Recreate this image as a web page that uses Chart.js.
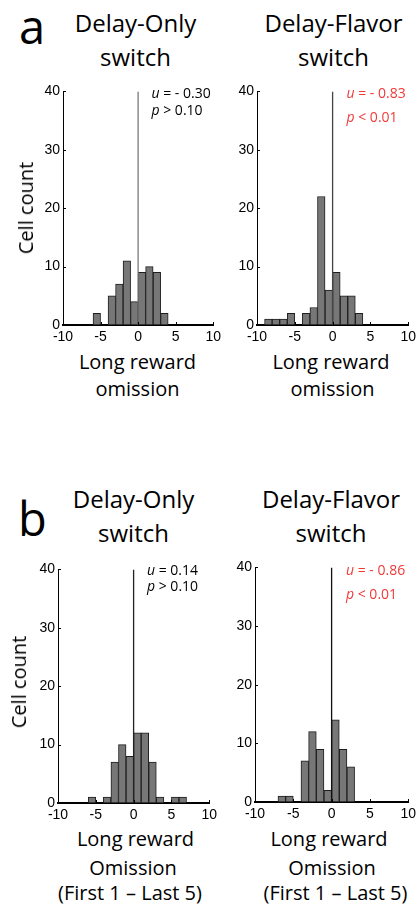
<!DOCTYPE html>
<html><head><meta charset="utf-8">
<script src="https://cdn.jsdelivr.net/npm/chart.js@4.4.1/dist/chart.umd.min.js"></script>
<style>
html,body{margin:0;padding:0;background:#fff;}
body{width:420px;height:908px;position:relative;overflow:hidden;}
canvas{position:absolute;}
.t{position:absolute;white-space:nowrap;line-height:1;font-family:"Open Sans",sans-serif;color:#000;}
.s{position:absolute;white-space:nowrap;line-height:1;font-family:"Open Sans",sans-serif;}
</style></head><body>
<script>
// ---- data ----
const binCenters = [-9.5,-8.5,-7.5,-6.5,-5.5,-4.5,-3.5,-2.5,-1.5,-0.5,0.5,1.5,2.5,3.5,4.5,5.5,6.5,7.5,8.5,9.5];
const xTicks = [-10,-5,0,5,10];
const yTicks = [0,10,20,30,40];
const countsDelayOnlyA   = [0,0,0,0,2,0,5,7,11,4,9,10,9,2,0,0,0,0,0,0];
const countsDelayFlavorA = [0,1,1,1,2,0,2,3,22,6,9,5,5,2,0,0,0,0,0,0];
const countsDelayOnlyB   = [0,0,0,0,1,0,1,7,10,8,12,12,7,1,0,1,1,0,0,0];
const countsDelayFlavorB = [0,0,0,1,1,0,7,12,9,2,14,9,6,0,0,0,0,0,0,0];
const statU = ["- 0.30","- 0.83","0.14","- 0.86"];
const statP = ["> 0.10","< 0.01","> 0.10","< 0.01"];
const panelLetters = ["a","b"];
const titleOnly = ["Delay-Only","switch"];
const titleFlavor = ["Delay-Flavor","switch"];
const yAxisLabel = "Cell count";
const xLabelA = ["Long reward","omission"];
const xLabelB = ["Long reward","Omission","(First 1 \u2013 Last 5)"];

// ---- helpers ----
function txt(str, x, baseline, fs, opts){
  opts = opts||{};
  const d=document.createElement('div');
  d.className = opts.cls||'t';
  d.textContent = str;
  d.style.fontSize = fs+'px';
  d.style.top = (baseline - 0.888*fs)+'px';
  if(opts.align==='left'){ d.style.left = x+'px'; }
  else { d.style.left = x+'px'; d.style.transform='translateX(-50%)'; }
  if(opts.color) d.style.color=opts.color;
  document.body.appendChild(d);
  return d;
}
function stat(sym, val, x, baseline, fs, color){
  const d=document.createElement('div');
  d.className='s';
  d.style.fontSize=fs+'px';
  d.style.top=(baseline-0.888*fs)+'px';
  d.style.left=x+'px';
  d.style.color=color;
  const i=document.createElement('i'); i.textContent=sym;
  d.appendChild(i);
  d.appendChild(document.createTextNode(' '+(sym==='u'?'= ':'')+val));
  document.body.appendChild(d);
}
function vlabel(str, cx, cy, fs){
  const d=document.createElement('div');
  d.className='t';
  d.textContent=str;
  d.style.fontSize=fs+'px';
  d.style.left=cx+'px'; d.style.top=cy+'px';
  d.style.transform='translate(-50%,-50%) rotate(-90deg)';
  document.body.appendChild(d);
}

const innerTicks = {
  id:'innerTicks',
  afterDraw(chart){
    const {ctx, chartArea:a, scales:{x,y}} = chart;
    ctx.save(); ctx.strokeStyle='#000'; ctx.lineWidth=1;
    ctx.beginPath();
    xTicks.forEach(v=>{const p=Math.round(x.getPixelForValue(v))+0.5; ctx.moveTo(p,a.bottom); ctx.lineTo(p,a.bottom-3);});
    yTicks.forEach(v=>{const p=Math.round(y.getPixelForValue(v))+0.5; ctx.moveTo(a.left,p); ctx.lineTo(a.left+3,p);});
    ctx.stroke(); ctx.restore();
  }
};

const YW=30, XH=22, PT=8, PR=10;
function makePanel(p){
  const c=document.createElement('canvas');
  const w=p.R-p.L+YW+PR, h=p.B-p.T+PT+XH;
  c.width=w; c.height=h;
  c.style.left=(p.L-YW)+'px'; c.style.top=(p.T-PT)+'px';
  c.style.width=w+'px'; c.style.height=h+'px';
  document.body.appendChild(c);
  new Chart(c,{
    data:{datasets:[
      {type:'line', data:[{x:0,y:0},{x:0,y:40}], borderColor:p.zero, borderWidth:1.3, pointRadius:0, order:0},
      {type:'bar', data:binCenters.map((b,i)=>({x:b,y:p.counts[i]})), backgroundColor:'#777777',
       borderColor:'#1e1e1e', borderWidth:1, borderSkipped:false, barPercentage:1, categoryPercentage:1, order:1}
    ]},
    options:{
      responsive:false, animation:false, devicePixelRatio:1,
      layout:{padding:{top:PT,right:PR,left:0,bottom:0}},
      plugins:{legend:{display:false},tooltip:{enabled:false}},
      scales:{
        x:{type:'linear',min:-10,max:10,offset:false,
           afterBuildTicks:(s)=>{s.ticks=xTicks.map(v=>({value:v}));},
           afterFit:(s)=>{s.height=XH;},
           grid:{display:false,drawTicks:false},
           border:{display:true,color:'#000',width:2},
           ticks:{padding:4,color:'#000',font:{family:'"Liberation Sans", Arial',size:14},maxRotation:0,autoSkip:false}},
        y:{type:'linear',min:0,max:40,
           afterBuildTicks:(s)=>{s.ticks=yTicks.map(v=>({value:v}));},
           afterFit:(s)=>{s.width=YW;},
           grid:{display:false,drawTicks:false},
           border:{display:true,color:'#000',width:1},
           ticks:{padding:3,color:'#000',font:{family:'"Liberation Sans", Arial',size:14}}}
      }
    },
    plugins:[innerTicks]
  });
}

const RED='#f03a3a';
// row a
makePanel({L:63,R:215,T:88,B:325,counts:countsDelayOnlyA,zero:'#7a7a7a'});
makePanel({L:257,R:410,T:88,B:325,counts:countsDelayFlavorA,zero:'#444'});
// row b
makePanel({L:58,R:211,T:566,B:803,counts:countsDelayOnlyB,zero:'#222'});
makePanel({L:255,R:410,T:564,B:802,counts:countsDelayFlavorB,zero:'#111'});

// letters
txt(panelLetters[0], 19, 45, 47, {align:'left'});
txt(panelLetters[1], 18, 536.5, 47, {align:'left'});
// titles
txt(titleOnly[0], 135.5, 32.5, 24); txt(titleOnly[1], 135.5, 66, 24);
txt(titleFlavor[0], 333.5, 32.5, 24); txt(titleFlavor[1], 333.5, 66, 24);
txt(titleOnly[0], 133.5, 508.5, 24); txt(titleOnly[1], 133.5, 542.5, 24);
txt(titleFlavor[0], 331, 508.5, 24); txt(titleFlavor[1], 331, 542.5, 24);
// y labels
vlabel(yAxisLabel, 25.5, 208, 20);
vlabel(yAxisLabel, 19, 682, 20);
// x labels
txt(xLabelA[0], 137.5, 370, 20); txt(xLabelA[1], 137.5, 396.5, 20);
txt(xLabelA[0], 331, 370, 20); txt(xLabelA[1], 332.5, 396.5, 20);
txt(xLabelB[0], 135.5, 847, 20); txt(xLabelB[1], 133, 876, 20); txt(xLabelB[2], 130, 900.5, 20);
txt(xLabelB[0], 329, 847, 20); txt(xLabelB[1], 332, 876, 20); txt(xLabelB[2], 335.5, 900.5, 20);
// stats
stat('u', statU[0], 151.5, 98, 14, '#000'); stat('p', statP[0], 151.5, 115, 14, '#000');
stat('u', statU[1], 346.5, 98, 14, RED);  stat('p', statP[1], 346.5, 122.5, 14, RED);
stat('u', statU[2], 147, 575, 14, '#000'); stat('p', statP[2], 147, 591, 14, '#000');
stat('u', statU[3], 346, 575, 14, RED);   stat('p', statP[3], 346, 599.5, 14, RED);
</script>
</body></html>
